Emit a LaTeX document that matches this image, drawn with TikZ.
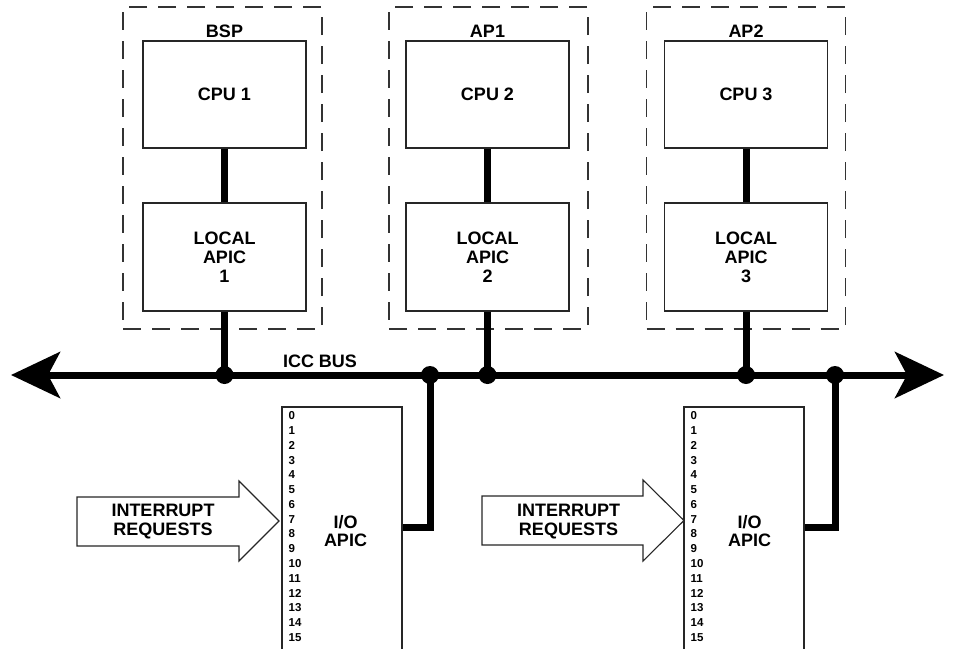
\documentclass[tikz,border=0pt]{standalone}
\usepackage{fontspec}
\setmainfont{Liberation Sans}
\usetikzlibrary{arrows.meta}
\begin{document}
\begin{tikzpicture}[x=1pt,y=-1pt,
  box/.style={draw=black!85, line width=1.1pt, minimum width=163pt, minimum height=107pt, align=center, inner sep=0pt, font=\fontsize{18}{19}\selectfont\bfseries},
  iobox/.style={draw=black!85, line width=1.1pt, minimum width=120pt, minimum height=253pt, inner sep=0pt},
  grp/.style={draw=black!80, line width=1.3pt, dash pattern=on 18pt off 11pt, minimum width=199pt, minimum height=322pt, inner sep=0pt},
  lbl/.style={font=\fontsize{18}{18.5}\selectfont\bfseries, inner sep=0pt, align=center},
  num/.style={font=\fontsize{11.5}{12}\selectfont\bfseries, inner sep=0pt, anchor=west},
  link/.style={line width=7pt, line join=miter, draw=black},
  junction/.style={circle, fill=black, minimum size=18pt, inner sep=0pt},
  fatarrow/.style={draw=black!85, line width=1.1pt, fill=white, line join=miter},
]
\useasboundingbox (0,0) rectangle (955,648);
\begin{scope}
\clip (0,0) rectangle (955,648);

% groups
\node[grp] (g1) at (222.5,168) {};
\node[grp] (g2) at (488.5,168) {};
\node[grp] (g3) at (746,168) {};
\node[lbl] (l1) at (224.5,31) {BSP};
\node[lbl] (l2) at (487.5,31) {AP1};
\node[lbl] (l3) at (746,31) {AP2};

% cpus and local apics
\node[box] (cpu1) at (224.5,94.5) {CPU 1};
\node[box] (cpu2) at (487.5,94.5) {CPU 2};
\node[box] (cpu3) at (746,94.5) {CPU 3};
\node[box, minimum height=108pt] (lap1) at (224.5,257) {LOCAL\\APIC\\1};
\node[box, minimum height=108pt] (lap2) at (487.5,257) {LOCAL\\APIC\\2};
\node[box, minimum height=108pt] (lap3) at (746,257) {LOCAL\\APIC\\3};

\draw[link] (cpu1) -- (lap1);
\draw[link] (cpu2) -- (lap2);
\draw[link] (cpu3) -- (lap3);

% bus
\coordinate (busL) at (11,375);
\coordinate (busR) at (944,375);
\draw[link, {Stealth[length=49pt,width=46pt,inset=12pt]}-{Stealth[length=49pt,width=46pt,inset=12pt]}] (busL) -- (busR);
\node[lbl] (icc) at (320,361) {ICC BUS};

\node[junction] (j1) at (224.5,375) {};
\node[junction] (j2) at (430,375) {};
\node[junction] (j3) at (487.5,375) {};
\node[junction] (j4) at (746,375) {};
\node[junction] (j5) at (835,375) {};

\draw[link] (lap1.south) -- (j1.center);
\draw[link] (lap2.south) -- (j3.center);
\draw[link] (lap3.south) -- (j4.center);

% I/O APICs
\node[iobox] (io1) at (342,533.5) {};
\node[iobox] (io2) at (744,533.5) {};
\node[lbl] (io1t) at (345.5,531) {I/O\\APIC};
\node[lbl] (io2t) at (749.5,531) {I/O\\APIC};
\foreach \i in {0,...,15} {
  \node[num] (a\i) at (288.5,416+14.75*\i) {\i};
  \node[num] (b\i) at (690.5,416+14.75*\i) {\i};
}
\draw[link] (j2.center) |- ([yshift=6.5pt]io1.east);
\draw[link] (j5.center) |- ([yshift=6.5pt]io2.east);

% interrupt request arrows
\draw[fatarrow] (77,497) -- (239,497) -- (239,481) -- (279,521) -- (239,561) -- (239,546) -- (77,546) -- cycle;
\node[lbl] (irq1) at (163,521.5) {INTERRUPT\\REQUESTS};
\draw[fatarrow] (482,496) -- (643,496) -- (643,480) -- (684,520.5) -- (643,561) -- (643,545) -- (482,545) -- cycle;
\node[lbl] (irq2) at (568.5,521.5) {INTERRUPT\\REQUESTS};
\end{scope}
\end{tikzpicture}
\end{document}
